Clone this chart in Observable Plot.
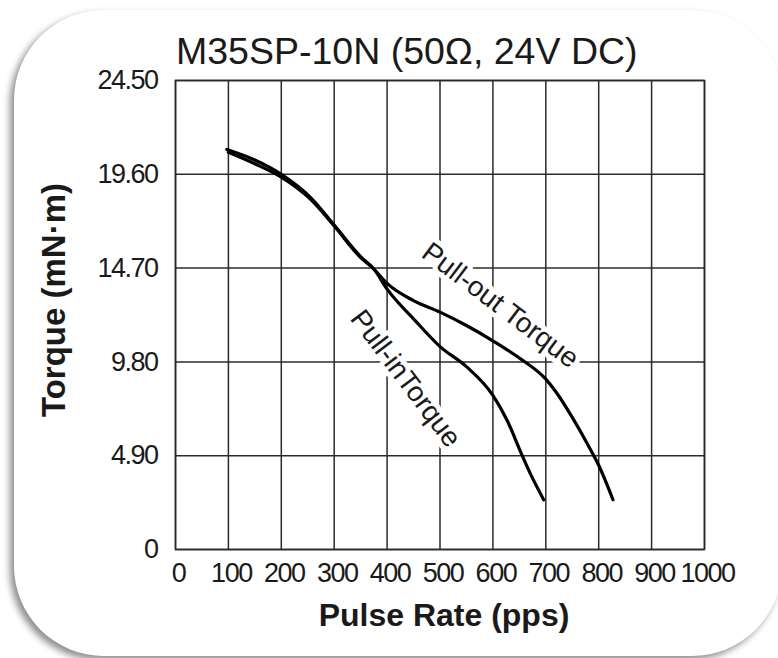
<!DOCTYPE html>
<html>
<head>
<meta charset="utf-8">
<script src="https://cdn.jsdelivr.net/npm/d3@7"></script>
<script src="https://cdn.jsdelivr.net/npm/@observablehq/plot@0.6"></script>
<style>
  html, body { margin: 0; padding: 0; background: #fff; }
  #wrap { position: relative; width: 778px; height: 658px; overflow: hidden; }
  #card { position: absolute; left: 14px; top: 10px; width: 768px; height: 646px;
          background: #fff; border-radius: 90px;
          box-shadow: -4px 4px 7px rgba(0,0,0,0.45); }
  #content { position: absolute; left: 0; top: 0; width: 778px; }
  #title { box-sizing: border-box; height: 70px; padding-top: 33px; padding-left: 176px;
           font: 37.5px "Liberation Sans", Arial, sans-serif; line-height: 36px; color: #1a1a1a;
           white-space: nowrap; }
</style>
</head>
<body>
<div id="wrap">
  <div id="card"></div>
  <div id="content">
    <div id="title">M35SP-10N (50Ω, 24V DC)</div>
    <div id="chart"></div>
  </div>
</div>
<script>
// Pulse rate ticks (pps) and torque ticks (mN·m)
const xTicks = [0, 100, 200, 300, 400, 500, 600, 700, 800, 900, 1000];
const yTicks = [0, 4.9, 9.8, 14.7, 19.6, 24.5];

// Pull-out torque curve
const pullOutPps    = [97, 150, 200, 255, 300, 350, 375, 400, 450, 500, 550, 600, 650, 700, 720, 750, 780, 800, 827];
const pullOutTorque = [20.9, 20.35, 19.6, 18.4, 16.95, 15.3, 14.65, 13.9, 13.0, 12.4, 11.7, 10.9, 10.0, 8.9, 8.2, 6.9, 5.45, 4.4, 2.6];

// Pull-in torque curve
const pullInPps    = [100, 150, 200, 255, 300, 350, 375, 400, 450, 500, 550, 600, 627, 654, 671, 696];
const pullInTorque = [20.75, 20.15, 19.45, 18.3, 16.9, 15.25, 14.65, 13.6, 12.05, 10.6, 9.55, 8.05, 6.74, 5.0, 3.95, 2.6];

// Curve annotations (anchored in data space)
const labelText   = ["Pull-out Torque", "Pull-inTorque"];
const labelPps    = [614, 435];
const labelTorque = [12.75, 8.93];
const labelAngle  = [37, 53];

const outData = pullOutPps.map((x, i) => ({x, y: pullOutTorque[i]}));
const inData  = pullInPps.map((x, i) => ({x, y: pullInTorque[i]}));
const labels  = labelText.map((t, i) => ({t, x: labelPps[i], y: labelTorque[i], r: labelAngle[i]}));

const mainFont = '"Liberation Sans", Arial, sans-serif';
const ink = "#1a1a1a";
const gridColor = "#2a2a2a";
const tickFmtY = d => d === 0 ? "0" : d.toFixed(2);
const hasAxisMarks = typeof Plot.axisX === "function";

const axes = hasAxisMarks ? [
  Plot.axisX(xTicks, {tickSize: 0, tickPadding: 13, dx: 3, fontSize: 27, fontFamily: mainFont,
                      tickFormat: d => String(d), label: null, fill: ink}),
  Plot.axisY(yTicks, {tickSize: 0, tickPadding: 18, fontSize: 27, fontFamily: mainFont,
                      tickFormat: tickFmtY, label: null, fill: ink})
] : [];

const chart = Plot.plot({
  width: 778,
  height: 588,
  marginTop: 10,
  marginLeft: 175,
  marginRight: 74,
  marginBottom: 109,
  style: {background: "transparent", color: ink, fontFamily: mainFont, fontSize: "27px", overflow: "visible"},
  x: {domain: [0, 1000], ticks: xTicks, tickFormat: d => String(d), tickSize: 0, tickPadding: 13, label: null},
  y: {domain: [0, 24.5], ticks: yTicks, tickFormat: tickFmtY, tickSize: 0, tickPadding: 18, label: null},
  marks: [
    Plot.ruleX(xTicks, {stroke: gridColor, strokeWidth: 1.5}),
    Plot.ruleY(yTicks, {stroke: gridColor, strokeWidth: 1.5}),
    Plot.frame({stroke: gridColor, strokeWidth: 1.6}),
    ...axes,
    Plot.text(labels, {x: "x", y: "y", text: "t", rotate: "r", fontSize: 28, fontFamily: mainFont,
                       fill: ink, stroke: "white", strokeWidth: 10, paintOrder: "stroke"}),
    Plot.line(outData, {x: "x", y: "y", stroke: "#000", strokeWidth: 3.2, curve: "monotone-x"}),
    Plot.line(inData, {x: "x", y: "y", stroke: "#000", strokeWidth: 3.2, curve: "monotone-x"}),
    Plot.text(["Torque (mN·m)"], {frameAnchor: "left", textAnchor: "middle", lineAnchor: "middle",
                                  dx: -121, dy: -15, rotate: -90, fontSize: 33,
                                  fontWeight: "bold", fontFamily: mainFont, fill: ink}),
    Plot.text(["Pulse Rate (pps)"], {frameAnchor: "bottom", textAnchor: "middle", lineAnchor: "middle",
                                     dx: 4, dy: 66, fontSize: 32,
                                     fontWeight: "bold", fontFamily: mainFont, fill: ink})
  ]
});
// condensed look for tick numbers
d3.select(chart).selectAll("text").style("letter-spacing", "-1.5px");
d3.select(chart).selectAll('g[aria-label="text"] text').style("letter-spacing", "0px");
document.getElementById("chart").appendChild(chart);
</script>
</body>
</html>
